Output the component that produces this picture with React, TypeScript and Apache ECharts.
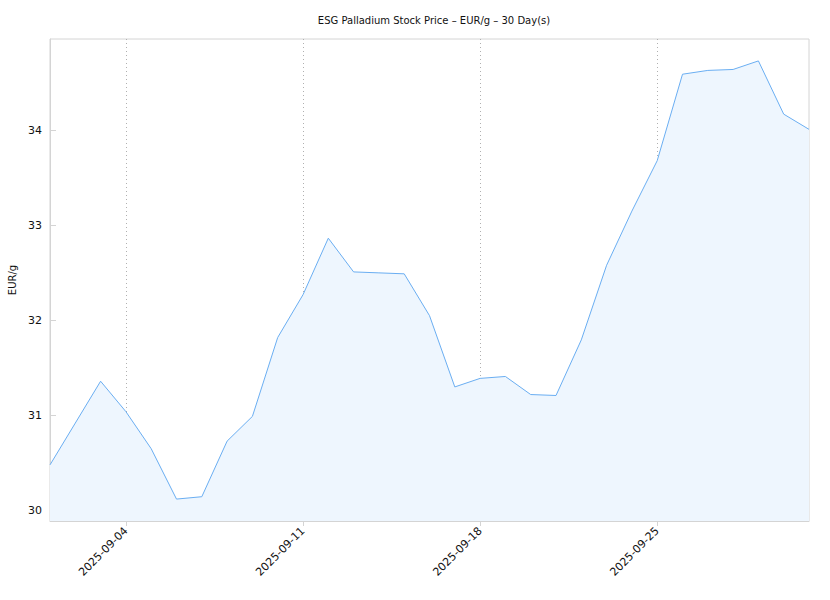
import React, { useEffect, useRef } from "react";
import * as echarts from "echarts";

const TITLE = "ESG Palladium Stock Price – EUR/g – 30 Day(s)";
const Y_NAME = "EUR/g";

const dates: string[] = [
  "2025-09-01", "2025-09-02", "2025-09-03", "2025-09-04", "2025-09-05", "2025-09-06",
  "2025-09-07", "2025-09-08", "2025-09-09", "2025-09-10", "2025-09-11", "2025-09-12",
  "2025-09-13", "2025-09-14", "2025-09-15", "2025-09-16", "2025-09-17", "2025-09-18",
  "2025-09-19", "2025-09-20", "2025-09-21", "2025-09-22", "2025-09-23", "2025-09-24",
  "2025-09-25", "2025-09-26", "2025-09-27", "2025-09-28", "2025-09-29", "2025-09-30",
  "2025-10-01",
];

const prices: number[] = [
  30.48, 30.92, 31.36, 31.04, 30.65, 30.12, 30.145, 30.73, 30.99, 31.82, 32.27,
  32.865, 32.51, 32.5, 32.49, 32.05, 31.3, 31.39, 31.41, 31.22, 31.21, 31.795,
  32.58, 33.15, 33.68, 34.59, 34.63, 34.64, 34.73, 34.17, 34.01,
];

const markedDates: string[] = ["2025-09-04", "2025-09-11", "2025-09-18", "2025-09-25"];

export default function App() {
  const ref = useRef<HTMLDivElement>(null);

  useEffect(() => {
    if (!ref.current) return;
    const chart = echarts.init(ref.current, undefined, { renderer: "svg" });
    const lo = Math.min(...prices);
    const hi = Math.max(...prices);
    const pad = (hi - lo) * 0.05;
    const isMarked = (i: number) => markedDates.includes(dates[i]);
    const font = "DejaVu Sans";

    chart.setOption({
      animation: false,
      backgroundColor: "#ffffff",
      textStyle: { fontFamily: font },
      title: {
        text: TITLE,
        left: 429,
        textAlign: "center",
        top: 10,
        textStyle: { fontFamily: font, fontSize: 10, fontWeight: "normal", color: "#111" },
      },
      grid: {
        left: 50,
        right: 21,
        top: 39,
        bottom: 79,
        outerBoundsMode: "none",
        containLabel: false,
        show: true,
        borderColor: "#d4d4d4",
        borderWidth: 1,
        backgroundColor: "transparent",
      },
      xAxis: {
        type: "category",
        data: dates,
        boundaryGap: false,
        axisLine: { show: true, lineStyle: { color: "#d4d4d4" } },
        axisTick: {
          show: true,
          interval: (i: number) => isMarked(i),
          length: 5,
          lineStyle: { color: "#d4d4d4" },
        },
        axisLabel: {
          interval: (i: number) => isMarked(i),
          rotate: 45,
          fontFamily: font,
          fontSize: 11,
          color: "#111",
          margin: 8,
        },
        splitLine: {
          show: true,
          interval: (i: number) => isMarked(i),
          lineStyle: { color: "#b0b0b0", type: [1, 3], width: 1 },
        },
      },
      yAxis: {
        type: "value",
        min: lo - pad,
        max: hi + pad,
        splitNumber: 5,
        name: Y_NAME,
        nameLocation: "middle",
        nameGap: 33,
        nameTextStyle: { fontFamily: font, fontSize: 10, color: "#111" },
        axisLine: { show: true, lineStyle: { color: "#d4d4d4" } },
        axisTick: { show: true, inside: true, length: 6, lineStyle: { color: "#d4d4d4" } },
        axisLabel: {
          fontFamily: font,
          fontSize: 11,
          color: "#111",
          margin: 8,
          showMinLabel: false,
          showMaxLabel: false,
          formatter: (v: number) => (Math.abs(v - Math.round(v)) < 1e-6 ? String(Math.round(v)) : ""),
        },
        splitLine: { show: false },
      },
      series: [
        {
          type: "line",
          data: prices,
          showSymbol: false,
          symbol: "none",
          lineStyle: { color: "#6aaef2", width: 1 },
          areaStyle: { color: "#eef6fe", opacity: 1, origin: "start" },
          itemStyle: { color: "#6aaef2" },
        },
      ],
    });

    return () => chart.dispose();
  }, []);

  return (
    <div
      ref={ref}
      style={{ position: "fixed", left: 0, top: 0, width: 830, height: 600 }}
    />
  );
}
